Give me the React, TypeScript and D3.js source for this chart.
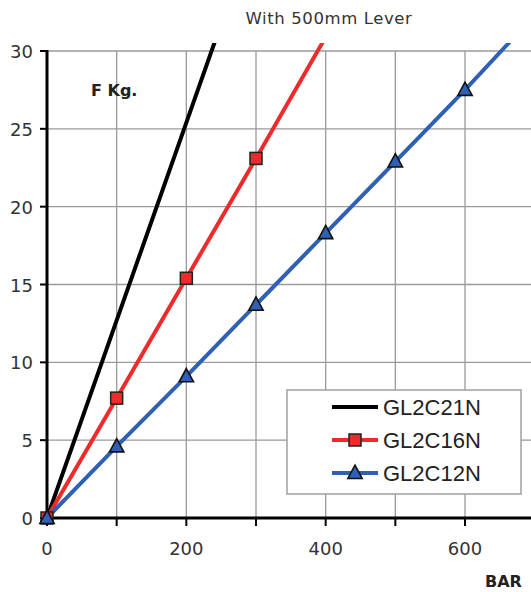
import React from "react";
import * as d3 from "d3";

const pressures = [0, 100, 200, 300, 400, 500, 600, 700];
const gl2c21n = [0, 12.7, 25.4, 38.1];
const gl2c16n = [0, 7.7, 15.4, 23.1, 30.9];
const gl2c12n = [0, 4.6, 9.1, 13.7, 18.3, 22.9, 27.5, 32.3];
const yTicks = [0, 5, 10, 15, 20, 25, 30];
const xTicks = [0, 100, 200, 300, 400, 500, 600];
const xLabels = [0, 200, 400, 600];
const seriesNames = ["GL2C21N", "GL2C16N", "GL2C12N"];

const W = 531;
const H = 592;

export default function App() {
  const x = d3.scaleLinear().domain([0, 600]).range([47, 465]);
  const y = d3.scaleLinear().domain([0, 30]).range([518, 51]);
  const line = d3
    .line<[number, number]>()
    .x((d) => x(d[0]))
    .y((d) => y(d[1]));

  const series = [
    { name: seriesNames[0], values: gl2c21n, color: "#000000", marker: "none" },
    { name: seriesNames[1], values: gl2c16n, color: "#ee2a2a", marker: "square" },
    { name: seriesNames[2], values: gl2c12n, color: "#2f60b4", marker: "triangle" },
  ];

  const tri = (cx: number, cy: number, s: number) =>
    `M${cx},${cy - s * 0.6}L${cx + s * 0.55},${cy + s * 0.42}L${cx - s * 0.55},${cy + s * 0.42}Z`;

  const marker = (m: string, cx: number, cy: number, color: string, key: any) => {
    if (m === "square")
      return (
        <rect key={key} x={cx - 6} y={cy - 6} width={12} height={12} fill={color} stroke="#222" strokeWidth={1.5} />
      );
    if (m === "triangle")
      return <path key={key} d={tri(cx, cy, 13)} fill={color} stroke="#111" strokeWidth={1.6} />;
    return null;
  };

  const tickFont = "'DejaVu Sans', Verdana, sans-serif";
  const xMax = W;

  return (
    <svg width={W} height={H} style={{ position: "absolute", left: 0, top: 0, background: "#fff" }}>
      <defs>
        <clipPath id="plotclip">
          <rect x={0} y={43} width={W} height={H - 43} />
        </clipPath>
      </defs>
      <rect x={0} y={0} width={W} height={H} fill="#ffffff" />
      {/* grid */}
      {yTicks
        .filter((t) => t > 0)
        .map((t) => (
          <line key={"gy" + t} x1={x(0)} x2={xMax} y1={y(t)} y2={y(t)} stroke="#9a9a9a" strokeWidth={1.3} />
        ))}
      {xTicks
        .filter((t) => t > 0)
        .map((t) => (
          <line key={"gx" + t} x1={x(t)} x2={x(t)} y1={y(30)} y2={y(0)} stroke="#9a9a9a" strokeWidth={1.3} />
        ))}
      {/* title */}
      <text x={329} y={24} textAnchor="middle" fontFamily={tickFont} fontSize={16.5} fill="#333" letterSpacing={0.6}>
        With 500mm Lever
      </text>
      {/* lines */}
      <g clipPath="url(#plotclip)">
        {series.map((s) => (
          <path
            key={s.name}
            d={line(s.values.map((v, i) => [pressures[i], v] as [number, number])) || ""}
            fill="none"
            stroke={s.color}
            strokeWidth={4}
          />
        ))}
      </g>
      {/* axes */}
      <line x1={x(0)} x2={x(0)} y1={y(30) - 1} y2={y(0) + 1.5} stroke="#000" strokeWidth={3} />
      <line x1={x(0) - 1.5} x2={xMax} y1={y(0)} y2={y(0)} stroke="#000" strokeWidth={3} />
      {yTicks.map((t) => (
        <g key={"yt" + t}>
          <line x1={x(0) - 7} x2={x(0)} y1={y(t)} y2={y(t)} stroke="#000" strokeWidth={2} />
          <text
            x={33}
            y={y(t) + 7}
            textAnchor="end"
            fontFamily={tickFont}
            fontSize={18}
            fill="#333"
          >
            {t}
          </text>
        </g>
      ))}
      {xTicks.map((t) => (
        <line key={"xt" + t} x1={x(t)} x2={x(t)} y1={y(0)} y2={y(0) + 8} stroke="#000" strokeWidth={2} />
      ))}
      {xLabels.map((t) => (
        <text key={"xl" + t} x={x(t)} y={555} textAnchor="middle" fontFamily={tickFont} fontSize={18} fill="#333">
          {t}
        </text>
      ))}
      {/* markers (only within the axis range) */}
      <g>
        {series.map((s) =>
          s.values.map((v, i) =>
            v <= 30 ? marker(s.marker, x(pressures[i]), y(v), s.color, s.name + i) : null
          )
        )}
      </g>
      {/* axis titles */}
      <text x={91} y={96} fontFamily={tickFont} fontSize={16} fontWeight="bold" fill="#222">
        F Kg.
      </text>
      <text x={485} y={587} fontFamily={tickFont} fontSize={16} fontWeight="bold" fill="#222">
        BAR
      </text>
      {/* legend */}
      <rect x={287} y={390} width={234} height={104} fill="#fff" stroke="#a0a0a0" strokeWidth={1.5} />
      {series.map((s, i) => {
        const cy = 407 + i * 33;
        return (
          <g key={"lg" + s.name}>
            <line x1={332} x2={378} y1={cy} y2={cy} stroke={s.color} strokeWidth={4} />
            {marker(s.marker, 355, cy, s.color, "lm" + i)}
            <text x={383} y={cy + 8} fontFamily="'Liberation Sans', Arial, sans-serif" fontSize={22} fill="#222">
              {s.name}
            </text>
          </g>
        );
      })}
    </svg>
  );
}
